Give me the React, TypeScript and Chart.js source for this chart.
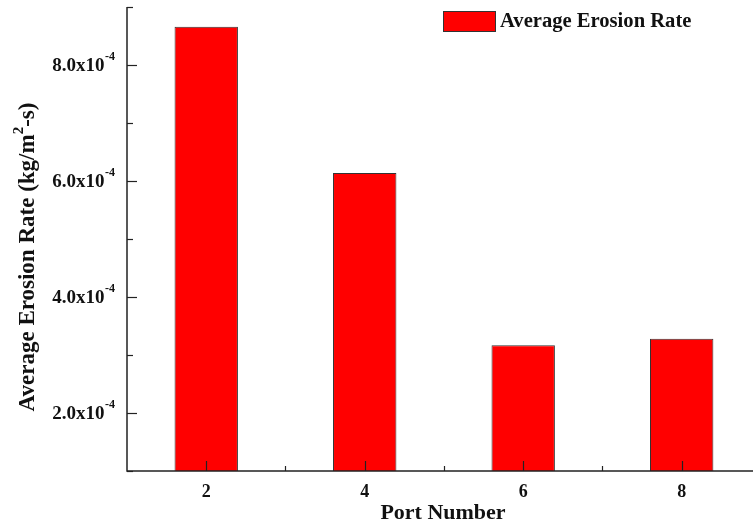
import React, { useEffect, useRef } from "react";
import { Chart, registerables } from "chart.js";

Chart.register(...registerables);

const ports = [2, 4, 6, 8];
const erosionRates = [8.66e-4, 6.14e-4, 3.17e-4, 3.28e-4];
const yMajorTicks = [2e-4, 4e-4, 6e-4, 8e-4];
const yMinorTicks = [1e-4, 3e-4, 5e-4, 7e-4, 9e-4];
const yTickLabels = ["2.0x10", "4.0x10", "6.0x10", "8.0x10"];
const yTickExp = "-4";
const xMajorTicks = [2, 4, 6, 8];
const xMinorTicks = [3, 5, 7];
const xTickLabels = ["2", "4", "6", "8"];
const seriesName = "Average Erosion Rate";
const xTitle = "Port Number";
const yTitleMain = "Average Erosion Rate (kg/m";
const yTitleSup = "2";
const yTitleEnd = "-s)";

const FONT = "'Liberation Serif', 'Times New Roman', serif";

const drawPlugin = {
  id: "customAxes",
  afterDatasetsDraw(chart: any) {
    const ctx = chart.ctx as CanvasRenderingContext2D;
    const area = chart.chartArea;
    const xs = chart.scales.x;
    const ys = chart.scales.y;
    ctx.save();
    ctx.strokeStyle = "#222";
    ctx.lineWidth = 1.5;
    ctx.beginPath();
    ctx.moveTo(area.left, area.top);
    ctx.lineTo(area.left, area.bottom);
    ctx.lineTo(area.right, area.bottom);
    ctx.stroke();
    ctx.lineWidth = 1.2;
    yMajorTicks.forEach((v) => {
      const y = Math.round(ys.getPixelForValue(v)) + 0.5;
      ctx.beginPath();
      ctx.moveTo(area.left, y);
      ctx.lineTo(area.left + 10, y);
      ctx.stroke();
    });
    yMinorTicks.forEach((v) => {
      const y = Math.round(ys.getPixelForValue(v)) + 0.5;
      ctx.beginPath();
      ctx.moveTo(area.left, y);
      ctx.lineTo(area.left + 6, y);
      ctx.stroke();
    });
    xMajorTicks.forEach((v) => {
      const x = Math.round(xs.getPixelForValue(v)) + 0.5;
      ctx.beginPath();
      ctx.moveTo(x, area.bottom);
      ctx.lineTo(x, area.bottom - 10);
      ctx.stroke();
    });
    xMinorTicks.forEach((v) => {
      const x = Math.round(xs.getPixelForValue(v)) + 0.5;
      ctx.beginPath();
      ctx.moveTo(x, area.bottom);
      ctx.lineTo(x, area.bottom - 5);
      ctx.stroke();
    });

    ctx.fillStyle = "#111";
    yMajorTicks.forEach((v, i) => {
      const y = ys.getPixelForValue(v);
      ctx.font = `bold 12px ${FONT}`;
      const supW = ctx.measureText(yTickExp).width;
      const supRight = area.left - 12;
      ctx.textAlign = "left";
      ctx.textBaseline = "middle";
      ctx.fillText(yTickExp, supRight - supW, y - 8);
      ctx.font = `bold 19px ${FONT}`;
      ctx.textAlign = "right";
      ctx.fillText(yTickLabels[i], supRight - supW - 0.5, y + 1);
    });
    ctx.font = `bold 18px ${FONT}`;
    ctx.textAlign = "center";
    ctx.textBaseline = "middle";
    xMajorTicks.forEach((v, i) => {
      ctx.fillText(xTickLabels[i], xs.getPixelForValue(v), area.bottom + 21);
    });
    ctx.font = `bold 22px ${FONT}`;
    ctx.fillText(xTitle, (area.left + area.right) / 2 + 3, area.bottom + 42);

    ctx.save();
    ctx.translate(28, 257);
    ctx.rotate(-Math.PI / 2);
    ctx.textBaseline = "middle";
    ctx.textAlign = "left";
    ctx.font = `bold 23px ${FONT}`;
    const w1 = ctx.measureText(yTitleMain).width;
    const w3 = ctx.measureText(yTitleEnd).width;
    ctx.font = `bold 15px ${FONT}`;
    const w2 = ctx.measureText(yTitleSup).width;
    const total = w1 + w2 + w3;
    let cx = -total / 2;
    ctx.font = `bold 23px ${FONT}`;
    ctx.fillText(yTitleMain, cx, 0);
    cx += w1;
    ctx.font = `bold 15px ${FONT}`;
    ctx.fillText(yTitleSup, cx, -9);
    cx += w2;
    ctx.font = `bold 23px ${FONT}`;
    ctx.fillText(yTitleEnd, cx, 0);
    ctx.restore();

    ctx.fillStyle = "#ff0000";
    ctx.fillRect(443.5, 11.5, 52, 20);
    ctx.strokeStyle = "#333";
    ctx.lineWidth = 1;
    ctx.strokeRect(443.5, 11.5, 52, 20);
    ctx.fillStyle = "#111";
    ctx.font = `bold 20.6px ${FONT}`;
    ctx.textAlign = "left";
    ctx.textBaseline = "middle";
    ctx.fillText(seriesName, 500, 22);
    ctx.restore();
  },
};

export default function App() {
  const ref = useRef<HTMLCanvasElement | null>(null);
  useEffect(() => {
    if (!ref.current) return;
    const chart = new Chart(ref.current, {
      type: "bar",
      data: {
        datasets: [
          {
            label: seriesName,
            data: ports.map((p, i) => ({ x: p, y: erosionRates[i] })),
            backgroundColor: "#ff0000",
            borderColor: "#333333",
            borderWidth: 1,
            barPercentage: 0.8,
            categoryPercentage: 1,
          },
        ],
      },
      options: {
        responsive: false,
        animation: false,
        layout: { padding: { left: 127, top: 7, right: 0, bottom: 55 } },
        plugins: { legend: { display: false }, tooltip: { enabled: false } },
        scales: {
          x: {
            type: "linear",
            min: 1,
            max: 8.9,
            display: false,
            offset: false,
            ticks: { stepSize: 1, includeBounds: false },
          },
          y: { type: "linear", min: 1e-4, max: 9e-4, display: false },
        },
      },
      plugins: [drawPlugin],
    });
    return () => chart.destroy();
  }, []);
  return (
    <div style={{ position: "absolute", left: 0, top: 0, width: 753, height: 526, background: "#fff", overflow: "hidden" }}>
      <canvas ref={ref} width={753} height={526} />
    </div>
  );
}
